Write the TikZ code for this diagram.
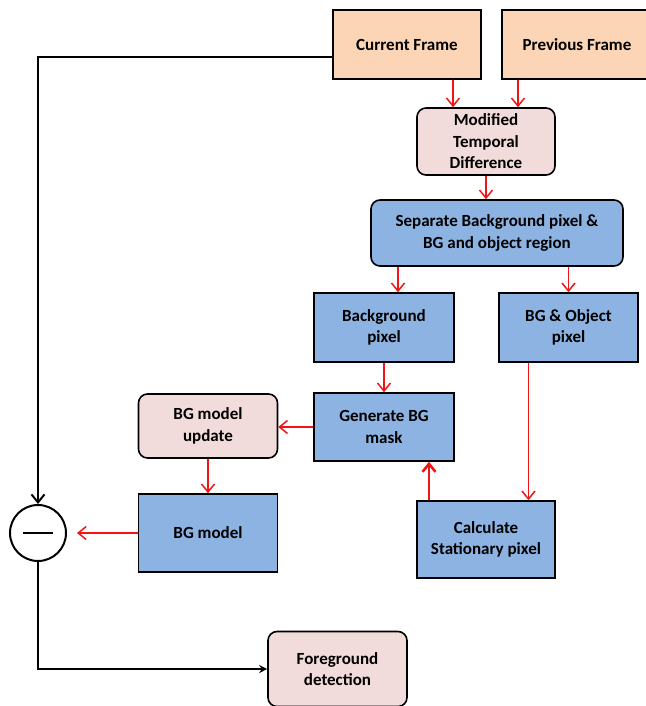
\documentclass[tikz,border=0pt]{standalone}
\usepackage{fontspec}
\setmainfont{Carlito}
\usetikzlibrary{arrows.meta,positioning,calc}
\definecolor{frameOrange}{RGB}{251,213,181}
\definecolor{stepPink}   {RGB}{242,220,219}
\definecolor{pixelBlue}  {RGB}{141,179,226}
\definecolor{flowRed}    {RGB}{240, 20, 20}

\begin{document}
\begin{tikzpicture}[x=1pt,y=-1pt,
    box/.style={draw=black,line width=1.6pt,align=center,inner sep=0pt,
      font=\fontsize{17}{21.5}\selectfont\bfseries},
    framebox/.style={box,fill=frameOrange,minimum width=148pt,minimum height=69pt},
    softbox/.style={box,fill=stepPink,rounded corners=9pt},
    pixbox/.style={box,fill=pixelBlue},
    redarrow/.style={draw=flowRed,line width=1.5pt,-{Straight Barb[length=8pt,width=13pt]}},
    blackline/.style={draw=black,line width=2pt}]
  \useasboundingbox (0,0) rectangle (645,706);
  % inputs
  \node[framebox] (cur) at (407,44.5) {Current Frame};
  \node[framebox,minimum width=150pt] (prev) at (577,44.5) {Previous Frame};
  \node[softbox,minimum width=138pt,minimum height=67pt] (mtd) at (486,141.5)
    {Modified\\Temporal\\Difference};
  \node[pixbox,rounded corners=9pt,minimum width=252pt,minimum height=66pt] (sep) at (497,233)
    {Separate Background pixel \&\\BG and object region};
  % pixel classes
  \node[pixbox,minimum width=140pt,minimum height=69pt] (bgp) at (384,327.5) {Background\\pixel};
  \node[pixbox,minimum width=139pt,minimum height=69pt] (obj) at (568.5,327.5) {BG \& Object\\pixel};
  \node[pixbox,minimum width=140pt,minimum height=68pt] (gen) at (384,427) {Generate BG\\mask};
  \node[pixbox,minimum width=138pt,minimum height=77pt] (calc) at (486,539.5) {Calculate\\Stationary pixel};
  % model
  \node[softbox,minimum width=139pt,minimum height=64pt] (upd) at (208,426) {BG model\\update};
  \node[pixbox,minimum width=139pt,minimum height=78pt] (bgm) at (208,533) {BG model};
  \node[circle,draw=black,line width=2pt,minimum size=56pt,inner sep=0pt] (sub) at (38,533) {};
  \draw[black,line width=1.5pt] ([xshift=-15pt]sub.center) -- ([xshift=15pt]sub.center);
  \node[softbox,minimum width=139pt,minimum height=75pt] (fg) at (337.5,669) {Foreground\\detection};
  % red flow
  \draw[redarrow] ([xshift=46pt]cur.south) -- ([xshift=46pt]cur.south |- mtd.north);
  \draw[redarrow] ([xshift=-59pt]prev.south) -- ([xshift=-59pt]prev.south |- mtd.north);
  \draw[redarrow] (mtd.south) -- (mtd.south |- sep.north);
  \draw[redarrow] ([xshift=14pt]bgp.north |- sep.south) -- ([xshift=14pt]bgp.north);
  \draw[redarrow] (obj.north |- sep.south) -- (obj.north);
  \draw[redarrow] (bgp.south) -- (gen.north);
  \draw[redarrow] ([xshift=-40pt]obj.south) -- ([xshift=-40pt]obj.south |- calc.north);
  \draw[redarrow,line width=2.6pt] ([xshift=-57pt]calc.north) -- ([xshift=-57pt]calc.north |- gen.south);
  \draw[redarrow] (gen.west) -- (gen.west -| upd.east);
  \draw[redarrow] (upd.south) -- (upd.south |- bgm.north);
  \draw[redarrow,shorten >=10pt] (bgm.west) -- (bgm.west -| sub.east);
  % black path
  \draw[blackline,-{Straight Barb[length=8pt,width=13pt]}] ([yshift=-13pt]cur.west) -| (sub.north);
  \draw[blackline,-{Stealth[length=8pt,width=8pt]}] (sub.south) |- (fg.west);
\end{tikzpicture}
\end{document}
